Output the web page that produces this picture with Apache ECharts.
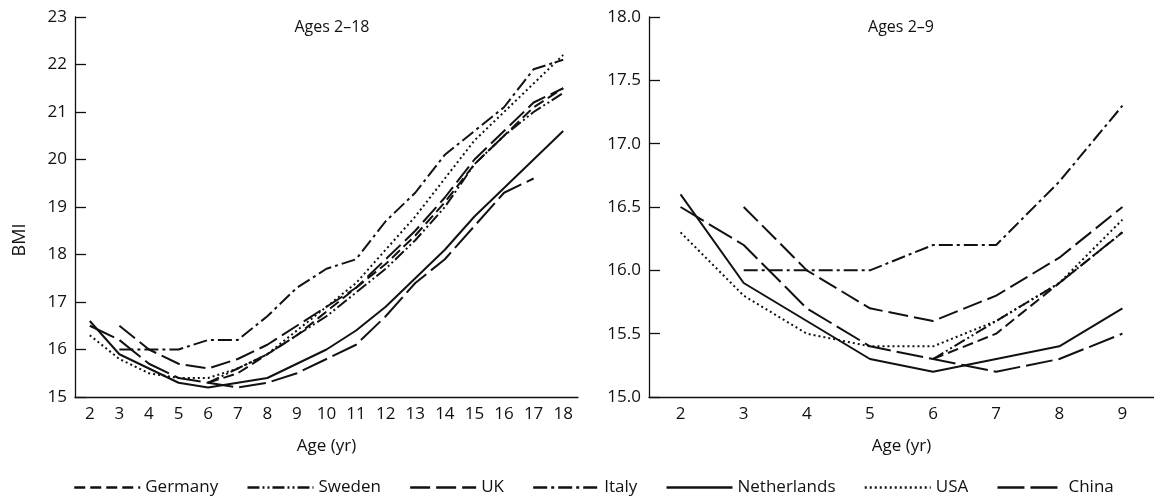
<!DOCTYPE html>
<html>
<head>
<meta charset="utf-8">
<script src="https://cdn.jsdelivr.net/npm/echarts@6/dist/echarts.min.js"></script>
<style>
html,body{margin:0;padding:0;background:#fff;}
#c{width:1154px;height:503px;}
</style>
</head>
<body>
<div id="c"></div>
<script>
// ---- data ----
const ages = [2,3,4,5,6,7,8,9,10,11,12,13,14,15,16,17,18];
const agesYoung = [2,3,4,5,6,7,8,9];
const germany     = [null,null,null,null,15.3,15.5,15.9,16.3,16.8,17.3,17.8,18.4,19.1,19.9,20.5,21.1,21.5];
const sweden      = [null,null,null,null,15.3,15.6,15.9,16.3,16.7,17.2,17.7,18.3,19.0,19.9,20.5,21.0,21.4];
const uk          = [null,16.5,16.0,15.7,15.6,15.8,16.1,16.5,16.9,17.3,17.9,18.5,19.2,20.0,20.6,21.2,21.5];
const italy       = [null,16.0,16.0,16.0,16.2,16.2,16.7,17.3,17.7,17.9,18.7,19.3,20.1,20.6,21.1,21.9,22.1];
const netherlands = [16.6,15.9,15.6,15.3,15.2,15.3,15.4,15.7,16.0,16.4,16.9,17.5,18.1,18.8,19.4,20.0,20.6];
const usa         = [16.3,15.8,15.5,15.4,15.4,15.6,15.9,16.4,16.9,17.4,18.1,18.8,19.6,20.4,21.0,21.6,22.2];
const china       = [16.5,16.2,15.7,15.4,15.3,15.2,15.3,15.5,15.8,16.1,16.7,17.4,17.9,18.6,19.3,19.6,null];

const countries = [
  {name:'Germany', data:germany, dash:[11,5]},
  {name:'Sweden', data:sweden, dash:[12,3,2,3,2,3]},
  {name:'UK', data:uk, dash:[20,6]},
  {name:'Italy', data:italy, dash:[14,4,3,4]},
  {name:'Netherlands', data:netherlands, dash:'solid'},
  {name:'USA', data:usa, dash:[2,3]},
  {name:'China', data:china, dash:[27,6]}
];

const FONT = 'Open Sans';
const INK = '#111';

function xAx(idx, cats){
  return {
    type:'category', gridIndex:idx, data:cats, boundaryGap:true,
    name:'Age (yr)', nameLocation:'middle', nameGap:41,
    nameTextStyle:{fontFamily:FONT, fontSize:17, color:INK},
    axisLine:{lineStyle:{color:INK, width:1.3}},
    axisTick:{alignWithLabel:true, inside:true, length:11, lineStyle:{color:INK, width:1.3}},
    axisLabel:{fontFamily:FONT, fontSize:17, color:INK, margin:9, interval:0},
    splitLine:{show:false}
  };
}
function yAx(idx, min, max, interval, dec){
  return {
    type:'value', gridIndex:idx, min:min, max:max, interval:interval,
    axisLine:{show:true, lineStyle:{color:INK, width:1.3}},
    axisTick:{show:true, inside:true, length:11, lineStyle:{color:INK, width:1.3}},
    axisLabel:{fontFamily:FONT, fontSize:17, color:INK, margin:8,
      formatter: v => dec ? v.toFixed(1) : String(v)},
    splitLine:{show:false}
  };
}

const series = [];
countries.forEach(c => {
  [0,1].forEach(g => {
    series.push({
      name:c.name, type:'line', xAxisIndex:g, yAxisIndex:g,
      data: g === 0 ? c.data : c.data.slice(0, agesYoung.length),
      symbol:'none', showSymbol:false, connectNulls:false, animation:false,
      lineStyle:{color:INK, width:2, type:c.dash},
      itemStyle:{color:INK}
    });
  });
});

const chart = echarts.init(document.getElementById('c'));
chart.setOption({
  animation:false,
  backgroundColor:'#fff',
  grid:[
    {left:75, top:17, width:503, height:380},
    {left:649, top:17, width:505, height:380}
  ],
  xAxis:[xAx(0, ages), xAx(1, agesYoung)],
  yAxis:[yAx(0,15,23,1,false), yAx(1,15,18,0.5,true)],
  legend:{
    bottom:2, left:68, itemWidth:66, itemHeight:10, itemGap:28,
    data: countries.map(c => c.name),
    itemStyle:{opacity:0},
    lineStyle:{width:2.5},
    textStyle:{fontFamily:FONT, fontSize:17, color:INK}
  },
  graphic:[
    {type:'text', x:332, y:27, style:{text:'Ages 2–18', font:'16px "Open Sans"', fill:INK, textAlign:'center', textVerticalAlign:'middle'}},
    {type:'text', x:901, y:27, style:{text:'Ages 2–9', font:'16px "Open Sans"', fill:INK, textAlign:'center', textVerticalAlign:'middle'}},
    {type:'text', x:20, y:240, rotation:Math.PI/2, style:{text:'BMI', font:'18px "Open Sans"', fill:INK, textAlign:'center', textVerticalAlign:'middle'}}
  ],
  series:series
});
</script>
</body>
</html>
